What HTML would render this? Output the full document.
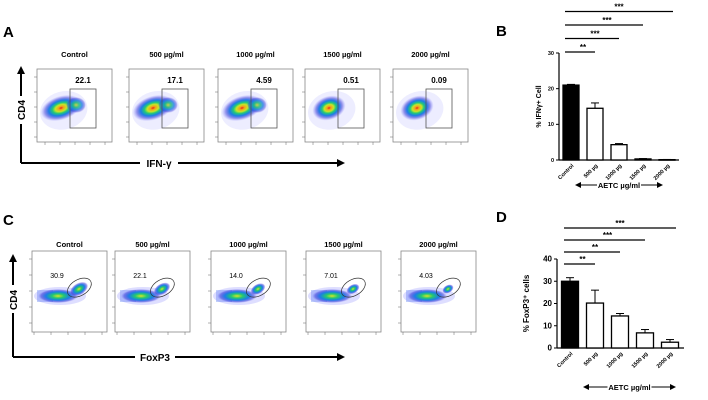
<!DOCTYPE html>
<html><head><meta charset="utf-8"><style>
body{margin:0;background:#fff}
svg{display:block;font-family:"Liberation Sans",Arial,sans-serif}
</style></head><body>
<svg id="fig" width="708" height="400" viewBox="0 0 708 400" xmlns="http://www.w3.org/2000/svg">
<defs>
<radialGradient id="dens" cx="50%" cy="50%" r="50%">
<stop offset="0" stop-color="#e8201c"/>
<stop offset="0.12" stop-color="#f4a21a"/>
<stop offset="0.28" stop-color="#c8e628"/>
<stop offset="0.42" stop-color="#22c878"/>
<stop offset="0.6" stop-color="#1a7ee6"/>
<stop offset="0.8" stop-color="#3a3ad8" stop-opacity="0.5"/>
<stop offset="1" stop-color="#6a6aff" stop-opacity="0"/>
</radialGradient>
<radialGradient id="densG" cx="50%" cy="50%" r="50%">
<stop offset="0" stop-color="#d8e628"/>
<stop offset="0.3" stop-color="#22c870"/>
<stop offset="0.6" stop-color="#1a7ee6"/>
<stop offset="0.85" stop-color="#3a3ad8" stop-opacity="0.5"/>
<stop offset="1" stop-color="#6a6aff" stop-opacity="0"/>
</radialGradient>
<marker id="ah" markerWidth="8" markerHeight="8" refX="6" refY="4" orient="auto" markerUnits="userSpaceOnUse"><path d="M0,0 L8,4 L0,8 z" fill="#000"/></marker>
<marker id="ahs" markerWidth="6" markerHeight="6" refX="5" refY="3" orient="auto-start-reverse" markerUnits="userSpaceOnUse"><path d="M0,0 L6,3 L0,6 z" fill="#000"/></marker>
</defs>

<text x="3" y="37" font-size="15" font-weight="bold">A</text>
<text x="3" y="225" font-size="15" font-weight="bold">C</text>
<text x="496" y="36" font-size="15" font-weight="bold">B</text>
<text x="496" y="222" font-size="15" font-weight="bold">D</text>

<line x1="21" y1="163" x2="21" y2="68" stroke="#000" stroke-width="2" marker-end="url(#ah)"/>
<line x1="21" y1="163" x2="140" y2="163" stroke="#000" stroke-width="2"/>
<line x1="178" y1="163" x2="343" y2="163" stroke="#000" stroke-width="2" marker-end="url(#ah)"/>
<rect x="13" y="96" width="16" height="28" fill="#fff"/>
<text transform="translate(25,110) rotate(-90)" text-anchor="middle" font-size="10" font-weight="bold">CD4</text>
<text x="159" y="167" text-anchor="middle" font-size="10" font-weight="bold">IFN-γ</text>

<line x1="13" y1="357" x2="13" y2="256" stroke="#000" stroke-width="2" marker-end="url(#ah)"/>
<line x1="13" y1="357" x2="135" y2="357" stroke="#000" stroke-width="2"/>
<line x1="175" y1="357" x2="343" y2="357" stroke="#000" stroke-width="2" marker-end="url(#ah)"/>
<rect x="5" y="285" width="16" height="28" fill="#fff"/>
<text transform="translate(17,300) rotate(-90)" text-anchor="middle" font-size="10" font-weight="bold">CD4</text>
<text x="155" y="361" text-anchor="middle" font-size="10" font-weight="bold">FoxP3</text>

<g id="flowA"></g><g id="flowC"></g><g id="chartB"></g><g id="chartD"></g>
</svg>
<script>
const NS="http://www.w3.org/2000/svg";
function mk(p,t,a,txt){const e=document.createElementNS(NS,t);for(const k in a)e.setAttribute(k,a[k]);if(txt!==undefined)e.textContent=txt;p.appendChild(e);return e;}

// Panel A flow data
const aTitles=["Control","500 µg/ml","1000 µg/ml","1500 µg/ml","2000 µg/ml"];
const aPercents=["22.1","17.1","4.59","0.51","0.09"];
// Panel C flow data
const cTitles=["Control","500 µg/ml","1000 µg/ml","1500 µg/ml","2000 µg/ml"];
const cPercents=["30.9","22.1","14.0","7.01","4.03"];

// Panel B bar data
const bCats=["Control","500 µg","1000 µg","1500 µg","2000 µg"];
const bVals=[21,14.5,4.3,0.3,0.1];
const bErr=[0.2,1.5,0.3,0.1,0.05];
const bTicks=[0,10,20,30];
const bSig=["**","***","***","***"];
// Panel D bar data
const dCats=["Control","500 µg","1000 µg","1500 µg","2000 µg"];
const dVals=[30,20.2,14.4,6.8,2.6];
const dErr=[1.6,5.8,1.1,1.5,1.2];
const dTicks=[0,10,20,30,40];
const dSig=["**","**","***","***"];

// Flow A
(function(){
 const g=document.getElementById('flowA');
 const xs=[37,129,218,305,393], w=75, top=69, h=73;
 aTitles.forEach((t,i)=>{
  const x=xs[i];
  const tt=mk(g,'text',{x:x+w/2,y:57,'text-anchor':'middle','font-size':7.5,'font-weight':'bold'},t);
  
  
  const bx=mk(g,'rect',{x:x,y:top,width:w,height:h,fill:'#fff',stroke:'#888','stroke-width':0.8});
  
  
  const cx=x+24, cy=top+39;
  mk(g,'ellipse',{cx:cx+2,cy:cy+3,rx:24,ry:19,fill:'#6a6aff','fill-opacity':0.12,transform:`rotate(-15 ${cx} ${cy})`});
  const sh=i<3?1:0;
  mk(g,'ellipse',{cx:cx,cy:cy,rx:17+sh*4,ry:12,fill:'url(#dens)',transform:`rotate(-18 ${cx} ${cy})`});
  if(sh) mk(g,'ellipse',{cx:cx+15,cy:cy-3,rx:10,ry:8,fill:'url(#densG)','fill-opacity':0.8});
  const gt=mk(g,'rect',{x:x+33,y:top+20,width:26,height:39,fill:'none',stroke:'#555','stroke-width':0.8});
  
  
  const n=mk(g,'text',{x:x+46,y:top+14,'text-anchor':'middle','font-size':8,'font-weight':'bold'},aPercents[i]);
  
  
  for(let k=0;k<5;k++){mk(g,'line',{x1:x-3,x2:x,y1:top+8+k*15,y2:top+8+k*15,stroke:'#666','stroke-width':0.5});
   mk(g,'line',{x1:x+8+k*15,x2:x+8+k*15,y1:top+h,y2:top+h+3,stroke:'#666','stroke-width':0.5});}
 });
})();

// Flow C
(function(){
 const g=document.getElementById('flowC');
 const xs=[32,115,211,306,401], w=75, top=251, h=81;
 cTitles.forEach((t,i)=>{
  const x=xs[i];
  const tt=mk(g,'text',{x:x+w/2,y:247,'text-anchor':'middle','font-size':7.5,'font-weight':'bold'},t);
  
  
  const bx=mk(g,'rect',{x:x,y:top,width:w,height:h,fill:'#fff',stroke:'#888','stroke-width':0.8});
  
  
  const cy=top+45;
  mk(g,'rect',{x:x+5,y:cy-6,width:16,height:12,fill:'#6a8cf0','fill-opacity':0.4});
  mk(g,'ellipse',{cx:x+28,cy:cy,rx:26,ry:9,fill:'#5a5aff','fill-opacity':0.2});
  mk(g,'ellipse',{cx:x+26,cy:cy,rx:20,ry:7,fill:'url(#densG)'});
  const gx=x+47, gy=top+38;
  mk(g,'ellipse',{cx:gx,cy:gy,rx:10-i,ry:6-i*0.5,fill:'url(#densG)',transform:`rotate(-30 ${gx} ${gy})`});
  const ge=mk(g,'ellipse',{cx:gx+1,cy:gy-1,rx:13,ry:8,fill:'none',stroke:'#333','stroke-width':0.7,transform:`rotate(-30 ${gx} ${gy})`});
  
  
  const n=mk(g,'text',{x:x+25,y:top+27,'text-anchor':'middle','font-size':7},cPercents[i]);
  
  
  for(let k=0;k<5;k++){mk(g,'line',{x1:x-3,x2:x,y1:top+8+k*16,y2:top+8+k*16,stroke:'#666','stroke-width':0.5});
   mk(g,'line',{x1:x+2+k*17,x2:x+2+k*17,y1:top+h,y2:top+h+3,stroke:'#666','stroke-width':0.5});}
 });
})();

function barChart(id,prefix,cats,vals,err,ticks,sig,o){
 const g=document.getElementById(id);
 const ymax=ticks[ticks.length-1];
 const Y=v=>o.y0-(v/ymax)*(o.y0-o.y1);
 const X=i=>o.xs+i*o.step;
 mk(g,'line',{x1:o.ax,x2:o.ax,y1:o.y1,y2:o.y0,stroke:'#000','stroke-width':1.2});
 mk(g,'line',{x1:o.ax,x2:o.xe,y1:o.y0,y2:o.y0,stroke:'#000','stroke-width':1.2});
 ticks.forEach(t=>{mk(g,'line',{x1:o.ax-3,x2:o.ax,y1:Y(t),y2:Y(t),stroke:'#000','stroke-width':1});
  const l=mk(g,'text',{x:o.ax-5,y:Y(t)+o.fs/3,'text-anchor':'end','font-size':o.fs,'font-weight':'bold'},t);
  
  });
 vals.forEach((v,i)=>{
  const cx=X(i);
  mk(g,'line',{x1:cx,x2:cx,y1:Y(v),y2:Y(v+err[i]),stroke:'#000','stroke-width':1});
  mk(g,'line',{x1:cx-4,x2:cx+4,y1:Y(v+err[i]),y2:Y(v+err[i]),stroke:'#000','stroke-width':1});
  const b=mk(g,'rect',{x:cx-o.bw/2,y:Y(v),width:o.bw,height:Math.max(0.5,o.y0-Y(v)),fill:i===0?'#000':'#fff',stroke:'#000','stroke-width':1.3});
  
  
  const l=mk(g,'text',{x:cx+3,y:o.y0+6,'text-anchor':'end','font-size':5.5,'font-weight':'bold',transform:`rotate(-45 ${cx+3} ${o.y0+6})`},cats[i]);
  
  
 });
 sig.forEach((s,i)=>{
  const y=o.sy0-i*o.sstep;
  const ln=mk(g,'line',{x1:X(0)-6,x2:X(i+1)+(i===3?6:0),y1:y,y2:y,stroke:'#000','stroke-width':1.3});
  
  
  const t=mk(g,'text',{x:(X(0)+X(i+1))/2,y:y-2,'text-anchor':'middle','font-size':8,'font-weight':'bold'},s);
  
  
 });
 const yt=mk(g,'text',{transform:`translate(${o.ytx},${(o.y0+o.y1)/2}) rotate(-90)`,'text-anchor':'middle','font-size':o.ytfs,'font-weight':'bold'},o.ytitle);
 
 
 const ar=mk(g,'line',{x1:o.axx1,x2:o.axx2,y1:o.axy,y2:o.axy,stroke:'#000','stroke-width':1,'marker-start':'url(#ahs)','marker-end':'url(#ahs)'});
 
 
 mk(g,'rect',{x:(o.axx1+o.axx2)/2-22,y:o.axy-5,width:44,height:10,fill:'#fff'});
 const xt=mk(g,'text',{x:(o.axx1+o.axx2)/2,y:o.axy+3,'text-anchor':'middle','font-size':7.5,'font-weight':'bold'},'AETC µg/ml');
 
 
}
barChart('chartB','b',bCats,bVals,bErr,bTicks,bSig,{ax:559,xe:679,y0:160,y1:53,xs:571,step:24,bw:16,fs:5.5,sy0:52,sstep:13.5,ytx:541,ytfs:7,ytitle:'% IFNγ+ Cell',axx1:576,axx2:662,axy:185});
barChart('chartD','d',dCats,dVals,dErr,dTicks,dSig,{ax:557,xe:684,y0:348,y1:259,xs:570,step:25,bw:17,fs:8,sy0:264,sstep:12,ytx:529,ytfs:8,ytitle:'% FoxP3⁺ cells',axx1:584,axx2:675,axy:387});
</script>
</body></html>
